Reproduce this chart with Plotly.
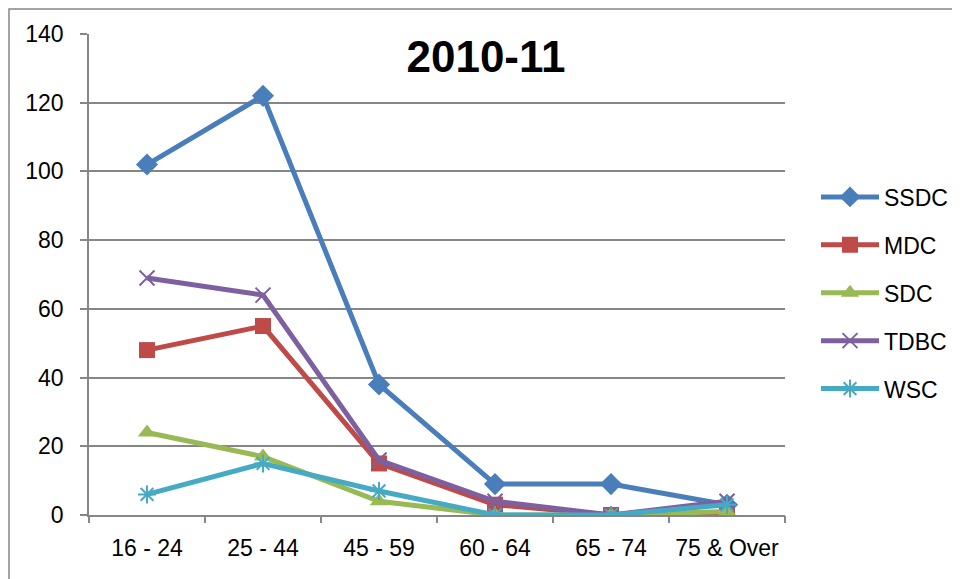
import plotly.graph_objects as go

categories = ["16 - 24", "25 - 44", "45 - 59", "60 - 64", "65 - 74", "75 & Over"]
ssdc = [102, 122, 38, 9, 9, 3]
mdc = [48, 55, 15, 3, 0, 0]
sdc = [24, 17, 4, 0, 0, 1]
tdbc = [69, 64, 16, 4, 0, 4]
wsc = [6, 15, 7, 0, 0, 3]
y_ticks = [0, 20, 40, 60, 80, 100, 120, 140]

series = [
    ("SSDC", ssdc, "#4A7EBB", dict(symbol="diamond", size=17)),
    ("MDC", mdc, "#BE4B48", dict(symbol="square", size=16)),
    ("SDC", sdc, "#98B954", dict(symbol="triangle-up", size=16)),
    ("TDBC", tdbc, "#7D60A0", dict(symbol="x-thin", size=15, line=dict(width=2, color="#7D60A0"))),
    ("WSC", wsc, "#46AAC5", dict(symbol="asterisk", size=15, line=dict(width=2, color="#46AAC5"))),
]

FONT = "Liberation Sans"
fig = go.Figure()
xs = list(range(len(categories)))
for name, vals, col, mk in series:
    mk = dict(mk)
    mk["color"] = col
    fig.add_trace(go.Scatter(
        x=xs, y=vals, name=name, mode="lines+markers",
        line=dict(color=col, width=5), marker=mk,
        legendgroup=name, xaxis="x", yaxis="y",
    ))

# invisible trace for category-boundary tick axis
fig.add_trace(go.Scatter(x=[-0.5, 5.5], y=[0, 0], xaxis="x2", yaxis="y",
                         mode="markers", marker=dict(opacity=0), showlegend=False, hoverinfo="skip"))

# page is offset by 8px body margin
OFF = 8
W, H = 960 - OFF, 579 - OFF
L, T = 89 - OFF, 34 - OFF
R = W - (785 - OFF)
B = H - (515 - OFF)
pw, ph = W - L - R, H - T - B

fig.update_layout(
    width=W, height=H,
    margin=dict(l=L, r=R, t=T, b=B, autoexpand=False),
    paper_bgcolor="white", plot_bgcolor="white",
    font=dict(family=FONT, size=23, color="black"),
    title=dict(text="<b>2010-11</b>", x=(486 - OFF) / W, xanchor="center",
               y=1 - (57 - OFF) / H, yanchor="middle", font=dict(size=44, family=FONT)),
    xaxis=dict(range=[-0.5, 5.5], tickmode="array", tickvals=xs, ticktext=categories,
               ticks="", showgrid=False, zeroline=False, showline=True,
               linecolor="#868686", linewidth=1.5, tickfont=dict(size=23),
               ticklabelstandoff=12, automargin=False),
    xaxis2=dict(range=[-0.5, 5.5], overlaying="x", tickmode="array",
                tickvals=[-0.5 + i for i in range(7)], showticklabels=False,
                ticks="outside", ticklen=7, tickcolor="#868686", tickwidth=1.5,
                showgrid=False, zeroline=False, showline=False, side="bottom"),
    yaxis=dict(range=[0, 140], tickmode="array", tickvals=y_ticks,
               ticks="outside", ticklen=7, tickcolor="#868686", tickwidth=1.5,
               showgrid=True, gridcolor="#868686", gridwidth=1.5,
               zeroline=False, showline=True, linecolor="#868686", linewidth=1.5,
               tickfont=dict(size=23), ticklabelstandoff=12, automargin=False),
    legend=dict(x=(816 - OFF - L) / pw, y=1 - (293 - OFF - T) / ph,
                xanchor="left", yanchor="middle",
                font=dict(size=23, family=FONT), tracegroupgap=15, itemwidth=58,
                bgcolor="rgba(0,0,0,0)"),
    showlegend=True,
)

# outer chart border
fig.add_shape(type="rect", xref="paper", yref="paper",
              x0=(1 - L) / pw, x1=(W + 20 - L) / pw,
              y0=1 - (H + 20 - T) / ph, y1=1 - (1 - T) / ph,
              line=dict(color="#868686", width=1.5), fillcolor="rgba(0,0,0,0)", layer="below")

fig.write_html("out.html")
